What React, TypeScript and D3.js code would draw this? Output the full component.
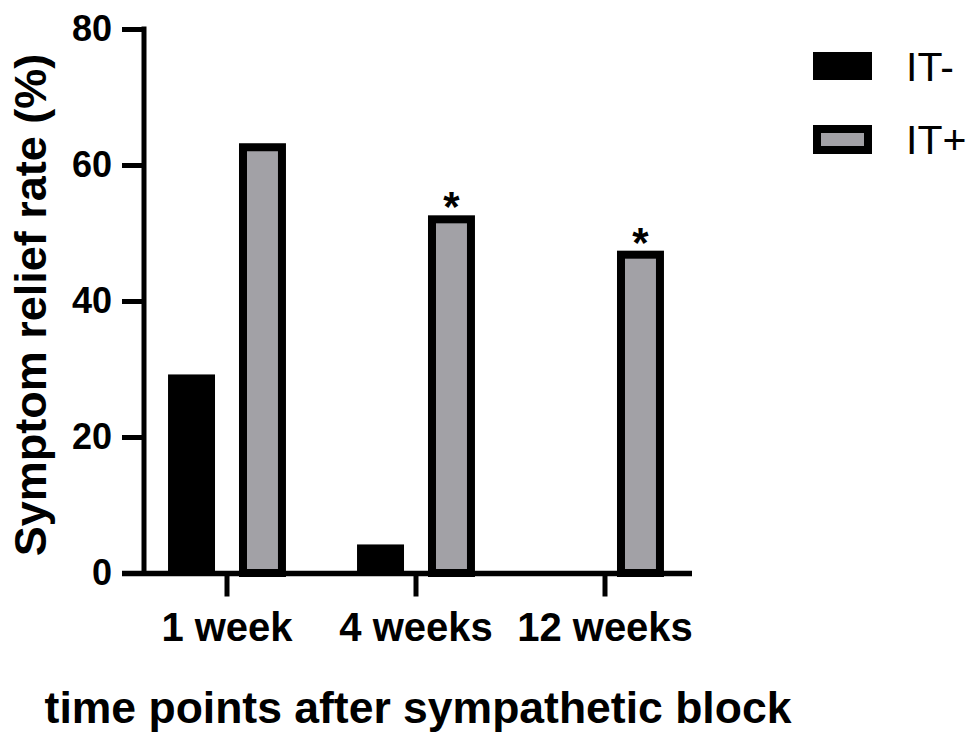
import React, { useEffect, useRef } from 'react';
import * as d3 from 'd3';

// data
const categories = ['1 week', '4 weeks', '12 weeks'];
const series = ['IT-', 'IT+'];
const itMinus = [29.2, 4.2, 0];
const itPlus = [63.2, 52.6, 47.4];
const itPlusMarks = ['', '*', '*'];
const yTicks = [0, 20, 40, 60, 80];

const FONT = '"Liberation Sans", Arial, sans-serif';
const GRAY = '#a2a1a6';

function drawChart(svgRoot: SVGSVGElement) {
    const svg = d3.select(svgRoot);
    svg.selectChildren().remove();

    const width = 969;
    const height = 732;
    svg.attr('width', width).attr('height', height).attr('viewBox', [0, 0, width, height] as any);

    const axisX = 144;
    const axisY = 573.5;

    const y = d3.scaleLinear().domain([0, 80]).range([573, 29]);
    const x0 = d3.scaleBand<string>()
        .domain(categories)
        .range([132.5, 699.5])
        .paddingInner(0.376)
        .paddingOuter(0.188);
    const x1 = d3.scaleBand<string>()
        .domain(series)
        .range([0, x0.bandwidth()])
        .paddingInner(0.338);

    const g = svg.append('g');

    // bars
    const rows = categories.map((c, i) => ({ c, minus: itMinus[i], plus: itPlus[i], mark: itPlusMarks[i] }));
    const stroke = 8;

    g.selectAll('.bar-minus')
        .data(rows)
        .enter().append('rect')
        .attr('class', 'bar-minus')
        .attr('x', (d) => x0(d.c)! + x1('IT-')!)
        .attr('width', x1.bandwidth())
        .attr('y', (d) => y(d.minus))
        .attr('height', (d) => y(0) - y(d.minus))
        .attr('fill', '#000');

    // stroke is drawn inside the bar outline
    g.selectAll('.bar-plus')
        .data(rows)
        .enter().append('rect')
        .attr('class', 'bar-plus')
        .attr('x', (d) => x0(d.c)! + x1('IT+')! + stroke / 2)
        .attr('width', x1.bandwidth() - stroke)
        .attr('y', (d) => y(d.plus) + stroke / 2)
        .attr('height', (d) => y(0) - y(d.plus) - stroke / 2)
        .attr('fill', GRAY)
        .attr('stroke', '#000')
        .attr('stroke-width', stroke);

    g.selectAll('.mark')
        .data(rows.filter((d) => d.mark))
        .enter().append('text')
        .attr('class', 'mark')
        .attr('x', (d) => x0(d.c)! + x1('IT+')! + x1.bandwidth() / 2)
        .attr('y', (d) => y(d.plus) + 6)
        .attr('text-anchor', 'middle')
        .attr('font-family', FONT)
        .attr('font-weight', 'bold')
        .attr('font-size', 42)
        .text((d) => d.mark);

    // y axis
    const yAxis = g.append('g')
        .attr('transform', `translate(${axisX},0)`)
        .call(d3.axisLeft(y).tickValues(yTicks).tickSize(22).tickSizeOuter(0).tickPadding(10));
    yAxis.select('.domain').remove();
    yAxis.selectAll('line').attr('stroke', '#000').attr('stroke-width', 5);
    yAxis.selectAll('text')
        .attr('font-family', FONT)
        .attr('font-weight', 'bold')
        .attr('font-size', 36)
        .attr('fill', '#000');
    g.append('line')
        .attr('x1', axisX).attr('x2', axisX)
        .attr('y1', y(80)).attr('y2', axisY)
        .attr('stroke', '#000').attr('stroke-width', 5)
        .attr('stroke-linecap', 'square');

    // x axis
    const xAxis = g.append('g')
        .attr('transform', `translate(0,${axisY})`)
        .call(d3.axisBottom(x0).tickSize(23).tickSizeOuter(0).tickPadding(16));
    xAxis.select('.domain').remove();
    xAxis.selectAll('line').attr('stroke', '#000').attr('stroke-width', 5);
    xAxis.selectAll('text')
        .attr('font-family', FONT)
        .attr('font-weight', 'bold')
        .attr('font-size', 40)
        .attr('fill', '#000');
    g.append('line')
        .attr('x1', axisX - 22).attr('x2', 692)
        .attr('y1', axisY).attr('y2', axisY)
        .attr('stroke', '#000').attr('stroke-width', 5.5);

    // axis titles
    g.append('text')
        .attr('transform', `translate(46,305) rotate(-90)`)
        .attr('text-anchor', 'middle')
        .attr('font-family', FONT)
        .attr('font-weight', 'bold')
        .attr('font-size', 45)
        .text('Symptom relief rate (%)');

    g.append('text')
        .attr('x', 418)
        .attr('y', 723)
        .attr('text-anchor', 'middle')
        .attr('font-family', FONT)
        .attr('font-weight', 'bold')
        .attr('font-size', 44.5)
        .text('time points after sympathetic block');

    // legend
    const legend = g.append('g').attr('transform', 'translate(813,52)');
    const items = legend.selectAll('g')
        .data(series)
        .enter().append('g')
        .attr('transform', (d, i) => `translate(0,${i * 73})`);
    items.append('rect')
        .attr('x', (d) => (d === 'IT+' ? stroke / 2 : 0))
        .attr('y', (d) => (d === 'IT+' ? stroke / 2 : 0))
        .attr('width', (d) => (d === 'IT+' ? 59 - stroke : 59))
        .attr('height', (d) => (d === 'IT+' ? 29 - stroke : 28))
        .attr('fill', (d) => (d === 'IT+' ? GRAY : '#000'))
        .attr('stroke', (d) => (d === 'IT+' ? '#000' : 'none'))
        .attr('stroke-width', stroke);
    items.append('text')
        .attr('x', 93)
        .attr('y', 29)
        .attr('font-family', FONT)
        .attr('font-size', 41)
        .text((d) => d);
}

export default function App() {
    const svgRef = useRef<SVGSVGElement>(null);

    useEffect(() => {
        document.body.style.margin = '0';
        svgRef.current && drawChart(svgRef.current);
    }, []);

    return (
        <div style={{ background: '#fff' }}>
            <svg ref={svgRef} style={{ display: 'block' }}></svg>
        </div>
    );
}
